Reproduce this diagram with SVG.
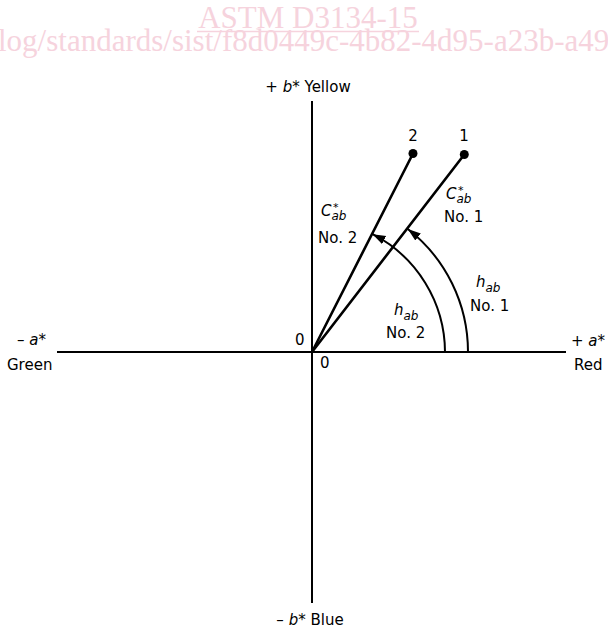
<svg xmlns="http://www.w3.org/2000/svg" width="608" height="629" viewBox="0 0 608 629">
<style>
.wm{font-family:"Liberation Serif","Times New Roman",serif;fill:#f6d3dd;font-size:31px}
.t{font-family:"DejaVu Sans",Verdana,sans-serif;font-size:15px;fill:#000}
.i{font-style:italic}
.sub{font-size:12px;font-style:italic}
.st{font-family:"DejaVu Sans",Verdana,sans-serif;font-size:11px;fill:#000}
.ax{stroke:#000;stroke-width:2;fill:none}
.ln{stroke:#000;stroke-width:2.6;fill:none;stroke-linecap:round}
.arc{stroke:#000;stroke-width:2;fill:none}
</style>
<defs>
<marker id="ah" markerUnits="userSpaceOnUse" markerWidth="14" markerHeight="10" refX="13" refY="4.5" orient="auto">
<path d="M0,0 L13,4.5 L0,9 Z" fill="#000"/>
</marker>
</defs>
<g id="watermark">
<text class="wm" x="308" y="28" text-anchor="middle">ASTM D3134-15</text>
<line x1="197" y1="31.5" x2="419" y2="31.5" stroke="#f6d3dd" stroke-width="1.5"/>
<text class="wm" x="-2" y="51">log/standards/sist/f8d0449c-4b82-4d95-a23b-a49</text>
</g>
<g id="connectors">
<line class="ax" x1="312" y1="101" x2="312" y2="603"/>
<line class="ax" x1="57" y1="352" x2="566" y2="352"/>
<line class="ln" x1="312" y1="352" x2="413" y2="153.5"/>
<line class="ln" x1="312" y1="352" x2="464.3" y2="154.5"/>
<path class="arc" d="M445,352 A133,133 0 0 0 372.6,234.2" marker-end="url(#ah)"/>
<path class="arc" d="M468,352 A156,156 0 0 0 407.8,229" marker-end="url(#ah)"/>
</g>
<g id="axis-labels">
<text class="t" x="308" y="92" text-anchor="middle">+ <tspan class="i">b</tspan>* Yellow</text>
<text class="t" x="310" y="625" text-anchor="middle">– <tspan class="i">b</tspan>* Blue</text>
<text class="t" x="17" y="345">– <tspan class="i">a</tspan>*</text>
<text class="t" x="7" y="370">Green</text>
<text class="t" x="571" y="346">+ <tspan class="i">a</tspan>*</text>
<text class="t" x="574" y="370">Red</text>
<text class="t" x="295" y="345">0</text>
<text class="t" x="320" y="368">0</text>
</g>
<g id="point-2">
<circle cx="413" cy="153.5" r="4.5" fill="#000"/>
<text class="t" x="413" y="141" text-anchor="middle">2</text>
</g>
<g id="point-1">
<circle cx="464.3" cy="154.5" r="4.5" fill="#000"/>
<text class="t" x="464" y="141" text-anchor="middle">1</text>
</g>
<g id="chroma-1">
<text class="t i" x="446" y="199">C<tspan class="sub" dy="4">ab</tspan></text>
<text class="st" x="458" y="194">*</text>
<text class="t" x="444" y="222">No. 1</text>
</g>
<g id="chroma-2">
<text class="t i" x="321" y="216">C<tspan class="sub" dy="4">ab</tspan></text>
<text class="st" x="333" y="211">*</text>
<text class="t" x="318" y="243">No. 2</text>
</g>
<g id="hue-1">
<text class="t i" x="476" y="287">h<tspan class="sub" dy="5">ab</tspan></text>
<text class="t" x="470" y="311">No. 1</text>
</g>
<g id="hue-2">
<text class="t i" x="394" y="315">h<tspan class="sub" dy="5">ab</tspan></text>
<text class="t" x="386" y="338">No. 2</text>
</g>
</svg>
